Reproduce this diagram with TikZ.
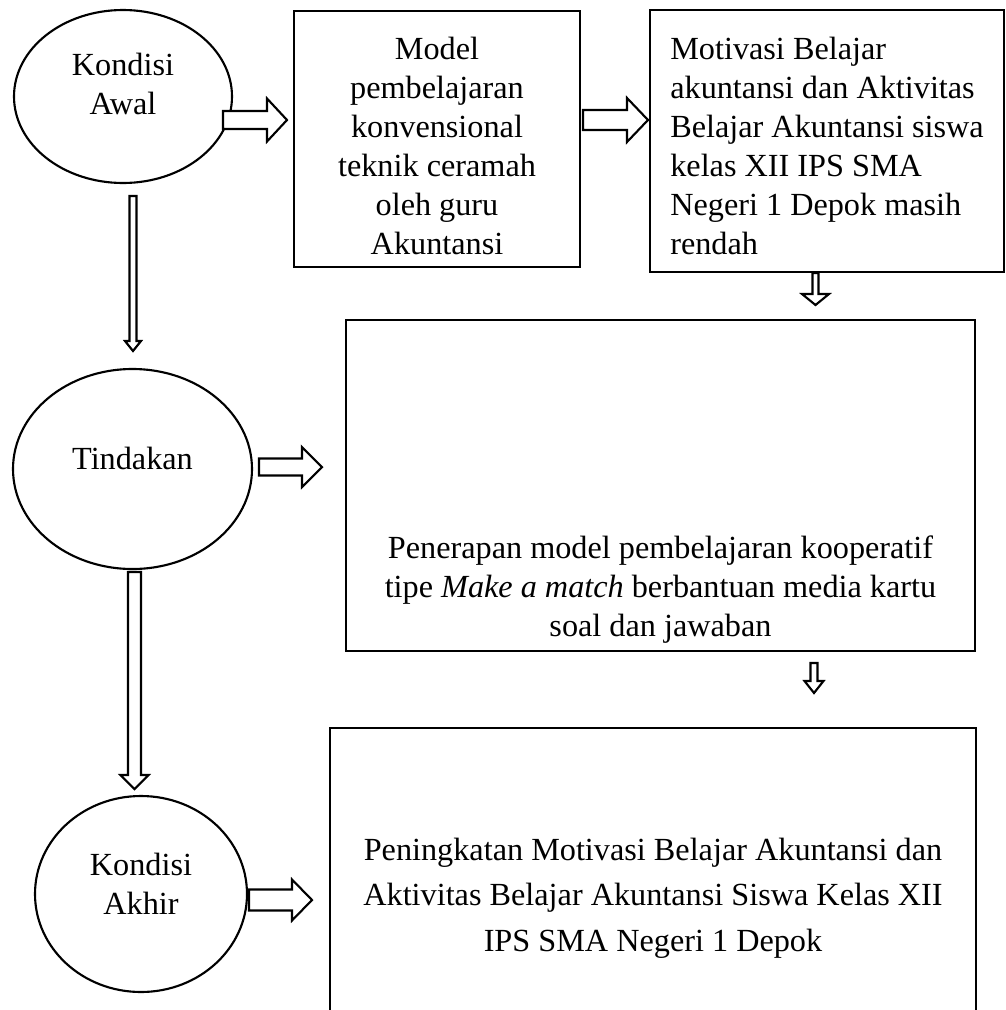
\documentclass[tikz,border=0pt]{standalone}
\usepackage{fontspec}
\setmainfont{Liberation Serif}
\usetikzlibrary{positioning}
\usetikzlibrary{calc}
\usetikzlibrary{shapes.geometric}
\def\px{0.3536pt}
\tikzset{
        basenode/.style={align=center, draw=black, line width=0.75pt, font=\fontsize{11.4}{13.8}\selectfont},
        % Conditions
        node_cond/.style={basenode, ellipse, inner sep=0pt},
        % Process boxes
        node_box/.style={basenode, rectangle, inner sep=2pt},
        % Hollow block arrows
        arr shaft/.store in=\arrshaft,
        arr head/.store in=\arrhead,
        arr len/.store in=\arrlen,
        hollow/.style={draw=black, fill=white, line width=0.75pt, line join=miter,
            to path={($(\tikztostart)!\arrshaft*\px!90:(\tikztotarget)$)
                -- ($(\tikztotarget)!\arrlen*\px!(\tikztostart)!\arrshaft*\px!90:(\tikztotarget)$)
                -- ($(\tikztotarget)!\arrlen*\px!(\tikztostart)!\arrhead*\px!90:(\tikztotarget)$)
                -- (\tikztotarget)
                -- ($(\tikztotarget)!\arrlen*\px!(\tikztostart)!\arrhead*\px!-90:(\tikztotarget)$)
                -- ($(\tikztotarget)!\arrlen*\px!(\tikztostart)!\arrshaft*\px!-90:(\tikztotarget)$)
                -- ($(\tikztostart)!\arrshaft*\px!-90:(\tikztotarget)$)
                -- cycle}}
}

\begin{document}
\begin{tikzpicture}[x=\px, y=-\px]
    \useasboundingbox (0,0) rectangle (1006,1010);

    % conditions
    \node[node_cond, minimum width=218*\px, minimum height=173*\px, text height=17.6pt, text depth=5pt] (awal) at (123,96.5) {Kondisi\\Awal};
    \node[node_cond, minimum width=239*\px, minimum height=200*\px, text height=9pt, text depth=9pt] (tindakan) at (132.5,469) {Tindakan};
    \node[node_cond, minimum width=212*\px, minimum height=196*\px, text height=19.4pt, text depth=5pt] (akhir) at (141,894) {Kondisi\\Akhir};

    % boxes
    \node[node_box, minimum width=286*\px, minimum height=256*\px, text height=81.6pt, text depth=0pt] (model) at (437,139)
        {Model\\pembelajaran\\konvensional\\teknik ceramah\\oleh guru\\Akuntansi};
    \node[node_box, align=left, minimum width=354*\px, minimum height=262*\px, text height=80.2pt, text depth=0pt] (motivasi) at (827,141)
        {Motivasi Belajar\\akuntansi dan Aktivitas\\Belajar Akuntansi siswa\\kelas XII IPS SMA\\Negeri 1 Depok masih\\rendah};
    \node[node_box, minimum width=629*\px, minimum height=331*\px, text height=107pt, text depth=0pt] (terapan) at (660.5,485.5)
        {Penerapan model pembelajaran kooperatif\\tipe \textit{Make a match} berbantuan media kartu\\soal dan jawaban};
    \node[node_box, font=\fontsize{11.4}{16}\selectfont, minimum width=646*\px, minimum height=288*\px, text height=56pt, text depth=0pt] (hasil) at (653,872)
        {Peningkatan Motivasi Belajar Akuntansi dan\\Aktivitas Belajar Akuntansi Siswa Kelas XII\\IPS SMA Negeri 1 Depok};

    % arrow ends
    \coordinate (a1s) at (223,120);   \coordinate (a1e) at (287,120);
    \coordinate (a2s) at (583,120);   \coordinate (a2e) at (648,120);
    \coordinate (a3s) at (259,467);   \coordinate (a3e) at (322,467);
    \coordinate (a4s) at (249,900);   \coordinate (a4e) at (312,900);
    \coordinate (d1s) at (815.5,273); \coordinate (d1e) at (815.5,305);
    \coordinate (d2s) at (133,196);   \coordinate (d2e) at (133,351);
    \coordinate (d3s) at (134.5,572); \coordinate (d3e) at (134.5,789);
    \coordinate (d4s) at (814,663);   \coordinate (d4e) at (814,693);

    \draw[hollow, arr shaft=9, arr head=21.5, arr len=20] (a1s) to (a1e);
    \draw[hollow, arr shaft=10, arr head=22, arr len=21] (a2s) to (a2e);
    \draw[hollow, arr shaft=8.5, arr head=20, arr len=20] (a3s) to (a3e);
    \draw[hollow, arr shaft=10.5, arr head=20.5, arr len=20] (a4s) to (a4e);
    \draw[hollow, arr shaft=3, arr head=13.5, arr len=11] (d1s) to (d1e);
    \draw[hollow, arr shaft=3.5, arr head=8, arr len=10] (d2s) to (d2e);
    \draw[hollow, arr shaft=6.5, arr head=14, arr len=14] (d3s) to (d3e);
    \draw[hollow, arr shaft=3.5, arr head=9.5, arr len=12] (d4s) to (d4e);
\end{tikzpicture}
\end{document}
